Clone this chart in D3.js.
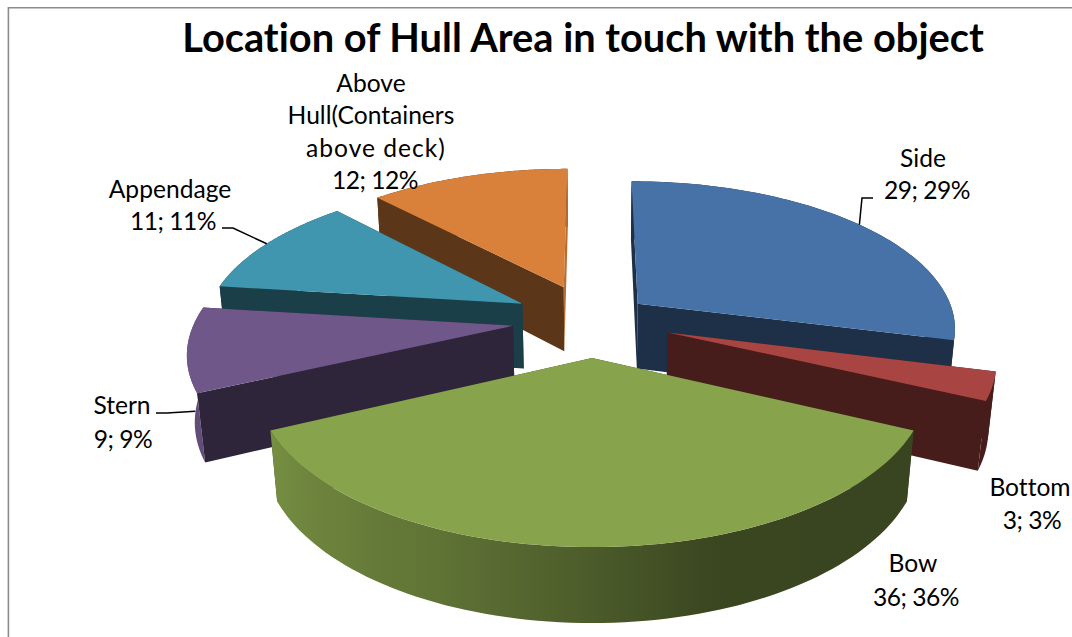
<!DOCTYPE html>
<html>
<head>
<meta charset="utf-8">
<script src="https://cdn.jsdelivr.net/npm/d3@7/dist/d3.min.js"></script>
<style>
  html, body { margin: 0; padding: 0; background: #fff; }
  svg { display: block; }
  text { font-family: Lato, "Open Sans", sans-serif; fill: #000; font-variant-ligatures: none; }
</style>
</head>
<body>
<svg id="chart" width="1072" height="637"></svg>
<script>
// Share of hull contact locations
const categories = ["Side", "Bottom", "Bow", "Stern", "Appendage", "Above Hull(Containers above deck)"];
const counts = [29, 3, 36, 9, 11, 12];
const percents = [29, 3, 36, 9, 11, 12];
const sliceColors = ["#4672a8", "#a84542", "#87a34b", "#70578a", "#4096ae", "#d9803a"];
const explosions = [0.185, 0.25, 0.25, 0.25, 0.25, 0.25];

// Label placement: centre x and centre y per line
const labelLayout = [
  { x: [923, 927], y: [158, 190] },
  { x: [1030, 1032], y: [487, 520] },
  { x: [913, 916], y: [563, 597] },
  { x: [122, 123], y: [405, 439] },
  { x: [170, 173], y: [189, 221] },
  { x: [371, 371, 376, 375], y: [83, 115, 148, 180] }
];
const labelNames = [["Side"], ["Bottom"], ["Bow"], ["Stern"], ["Appendage"], ["Above", "Hull(Containers", "above deck)"]];

// Leader lines: label-side start, elbow, and the pie point they attach to
const leaders = [
  { slice: 0, start: [873, 198], elbow: [862, 198], depth: 0 },
  { slice: 4, start: [222, 228], elbow: [233, 228], depth: 0 },
  { slice: 3, start: [156, 413], elbow: [167, 413], depth: 0.1, angleDeg: 249 }
];

const svg = d3.select("#chart");
const defs = svg.append("defs");

// Camera model for the tilted pie (radius = 1 unit)
const cam = { cx: 592, cy: 320, f: 1809, dist: 5.69, sin: 0.46, cos: 0.888, height: 0.237 };

function project(x, y, z) {
  const d = cam.dist - y * cam.cos - z * cam.sin;
  return [cam.cx + cam.f * x / d, cam.cy + cam.f * (y * cam.sin - z * cam.cos) / d];
}

const arcs = d3.pie().sort(null).value(d => d)(counts);

// Brightness of the rim as a function of its facing direction
const rimShade = d3.scaleLinear()
  .domain([0, 120, 162, 180, 202, 245, 270, 360])
  .range([0.42, 0.42, 0.43, 0.56, 0.7, 0.88, 0.95, 0.95])
  .clamp(true);
const wallShade = 0.42;
const litWallShade = 0.85;

const darken = (color, k) => {
  const c = d3.rgb(color);
  return d3.rgb(c.r * k, c.g * k, c.b * k).formatHex();
};

const line = d3.line();
const slices = arcs.map((a, i) => {
  const mid = (a.startAngle + a.endAngle) / 2;
  const e = explosions[i];
  return {
    ...a, i, mid,
    ox: Math.sin(mid) * e,
    oy: -Math.cos(mid) * e,
    color: sliceColors[i]
  };
}).sort((p, q) => d3.ascending(p.oy, q.oy));

const rimPoint = (s, t) => [s.ox + Math.sin(t), s.oy - Math.cos(t)];
const camGroundY = cam.dist * cam.cos;
const H = -cam.height;

const gPie = svg.append("g");
slices.forEach(s => {
  const g = gPie.append("g").attr("class", "slice");

  // Radial walls, with the outward normal used to find which ones face the viewer
  const walls = [
    { t: s.startAngle, n: [-Math.cos(s.startAngle), -Math.sin(s.startAngle)] },
    { t: s.endAngle, n: [Math.cos(s.endAngle), Math.sin(s.endAngle)] }
  ].map(w => {
    const p = rimPoint(s, w.t);
    const facing = w.n[0] * (0 - s.ox) + w.n[1] * (camGroundY - s.oy) > 0;
    return {
      facing,
      fill: darken(s.color, w.n[0] > 0.9 ? litWallShade : wallShade),
      pts: [project(s.ox, s.oy, 0), project(p[0], p[1], 0), project(p[0], p[1], H), project(s.ox, s.oy, H)]
    };
  });

  const drawWall = w => g.append("path").attr("d", line(w.pts) + "Z").attr("fill", w.fill);
  walls.filter(w => !w.facing).forEach(drawWall);

  // Curved rim with a horizontal gradient that follows the rim's facing angle
  const lo = Math.max(s.startAngle, Math.PI / 2);
  const hi = Math.min(s.endAngle, 1.5 * Math.PI);
  const angleAt = u => s.startAngle + (s.endAngle - s.startAngle) * u;
  const steps = d3.range(0, 81).map(k => angleAt(k / 80));
  const topRim = steps.map(t => { const p = rimPoint(s, t); return project(p[0], p[1], 0); });
  const lowRim = steps.map(t => { const p = rimPoint(s, t); return project(p[0], p[1], H); }).reverse();

  const rimFill = (() => {
    if (hi <= lo) return darken(s.color, wallShade);
    const samples = d3.range(0, 41).map(k => {
      const t = lo + (hi - lo) * k / 40;
      const p = rimPoint(s, t);
      return { t, x: project(p[0], p[1], 0)[0] };
    }).sort((a, b) => d3.ascending(a.x, b.x));
    const [x0, x1] = d3.extent(samples, d => d.x);
    const id = "rim" + s.i;
    const grad = defs.append("linearGradient").attr("id", id)
      .attr("gradientUnits", "userSpaceOnUse")
      .attr("x1", x0).attr("x2", x1).attr("y1", 0).attr("y2", 0);
    grad.selectAll("stop").data(samples).join("stop")
      .attr("offset", d => (d.x - x0) / (x1 - x0))
      .attr("stop-color", d => darken(s.color, rimShade(d.t * 180 / Math.PI)));
    return "url(#" + id + ")";
  })();
  g.append("path").attr("d", line(topRim.concat(lowRim)) + "Z").attr("fill", rimFill);

  walls.filter(w => w.facing).forEach(drawWall);

  // Top face
  g.append("path")
    .attr("d", line([project(s.ox, s.oy, 0)].concat(topRim)) + "Z")
    .attr("fill", s.color);
});

// Chart frame: left and top rules
svg.append("path")
  .attr("d", "M8.4,637V7.7H1072")
  .attr("fill", "none")
  .attr("stroke", "#8c8c8c")
  .attr("stroke-width", 1.6);

// Title
svg.append("text")
  .attr("x", 583).attr("y", 52)
  .attr("text-anchor", "middle")
  .attr("font-weight", 700)
  .attr("font-size", 39.8)
  .text("Location of Hull Area in touch with the object");

// Leader lines
leaders.forEach(l => {
  const s = slices.find(d => d.i === l.slice);
  const t = l.angleDeg != null ? l.angleDeg * Math.PI / 180 : s.mid;
  const p = rimPoint(s, t);
  const end = project(p[0], p[1], -l.depth);
  svg.append("path")
    .attr("d", line([l.start, l.elbow, end]))
    .attr("fill", "none")
    .attr("stroke", "#000")
    .attr("stroke-width", 1.5);
});

// Data labels: name lines followed by "count; percent%"
labelLayout.forEach((l, i) => {
  const lines = labelNames[i].concat(counts[i] + "; " + percents[i] + "%");
  lines.forEach((t, j) => {
    const isValueLine = j === lines.length - 1;
    svg.append("text")
      .attr("x", l.x[j]).attr("y", l.y[j])
      .attr("dy", "0.36em")
      .attr("text-anchor", "middle")
      .attr("font-size", 24.6)
      .attr("letter-spacing", isValueLine ? "-0.5px" : t === "above deck)" ? "1px" : null)
      .text(t);
  });
});
</script>
</body>
</html>
